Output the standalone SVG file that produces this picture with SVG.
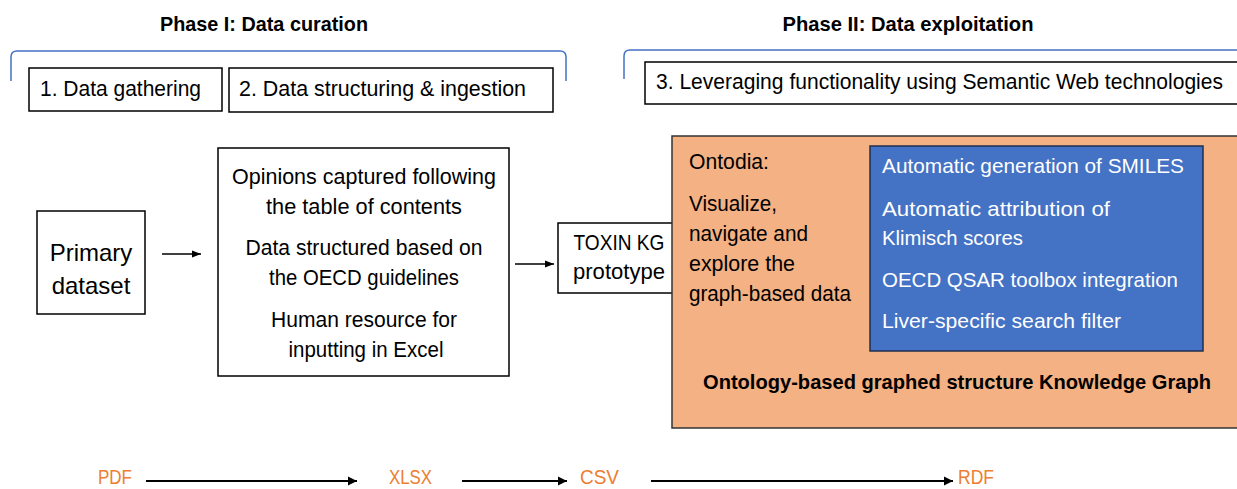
<svg xmlns="http://www.w3.org/2000/svg" width="1237" height="489" viewBox="0 0 1237 489">
<defs>
<marker id="ah" viewBox="0 0 10 10" refX="10" refY="5" markerWidth="9" markerHeight="9" orient="auto" markerUnits="userSpaceOnUse">
<path d="M0,1 L10,5 L0,9 Z" fill="#000"/>
</marker>
<marker id="ah2" viewBox="0 0 10 10" refX="10" refY="5" markerWidth="9" markerHeight="10" orient="auto" markerUnits="userSpaceOnUse">
<path d="M0,0 L10,5 L0,10 Z" fill="#000"/>
</marker>
</defs>
<style>
.t{font-family:"Liberation Sans",Arial,sans-serif;font-size:21.5px;fill:#000}
.c{text-anchor:middle}
.b{font-weight:bold;font-size:20.5px}
.w{fill:#fff;font-size:21px}
.o{fill:#ED7D31;font-size:21px}
.box{fill:#fff;stroke:#000;stroke-width:1.5}
.brk{fill:none;stroke:#4472C4;stroke-width:1.5}
.ar{fill:none;stroke:#000;stroke-width:1.5;marker-end:url(#ah)}
.ar2{fill:none;stroke:#000;stroke-width:2.2;marker-end:url(#ah2)}
</style>
<rect width="1237" height="489" fill="#fff"/>

<g id="phase1">
<text class="t b c" x="264" y="31" textLength="208" lengthAdjust="spacingAndGlyphs">Phase I: Data curation</text>
<path class="brk" d="M11,81 V57 Q11,51 17,51 H560 Q566,51 566,57 V81"/>
</g>
<g id="phase2">
<text class="t b c" x="908" y="31" textLength="251" lengthAdjust="spacingAndGlyphs">Phase II: Data exploitation</text>
<path class="brk" d="M624,79 V56 Q624,50 630,50 H1240"/>
</g>

<g id="step1">
<rect class="box" x="29" y="68" width="193" height="43"/>
<text class="t" x="40" y="96" textLength="161" lengthAdjust="spacingAndGlyphs">1. Data gathering</text>
</g>
<g id="step2">
<rect class="box" x="229" y="68" width="324" height="44"/>
<text class="t" x="239" y="96" textLength="287" lengthAdjust="spacingAndGlyphs">2. Data structuring &amp; ingestion</text>
</g>
<g id="step3">
<rect class="box" x="645" y="62" width="600" height="42"/>
<text class="t" x="656" y="89" textLength="567" lengthAdjust="spacingAndGlyphs">3. Leveraging functionality using Semantic Web technologies</text>
</g>

<g id="primary">
<rect class="box" x="37" y="211" width="108" height="103"/>
<text class="t c" x="91" y="261" style="font-size:24px">Primary</text>
<text class="t c" x="91" y="294" style="font-size:24px">dataset</text>
</g>

<g id="structuring">
<rect class="box" x="218" y="148" width="291" height="228"/>
<text class="t c" x="364" y="184" textLength="264" lengthAdjust="spacingAndGlyphs">Opinions captured following</text>
<text class="t c" x="364" y="214" textLength="196" lengthAdjust="spacingAndGlyphs">the table of contents</text>
<text class="t c" x="364" y="255" textLength="237" lengthAdjust="spacingAndGlyphs">Data structured based on</text>
<text class="t c" x="364" y="285" textLength="190" lengthAdjust="spacingAndGlyphs">the OECD guidelines</text>
<text class="t c" x="364" y="327" textLength="186" lengthAdjust="spacingAndGlyphs">Human resource for</text>
<text class="t c" x="366" y="357" textLength="155" lengthAdjust="spacingAndGlyphs">inputting in Excel</text>
</g>

<g id="toxin">
<rect class="box" x="558" y="223" width="120" height="70"/>
<text class="t c" x="619" y="250" textLength="91" lengthAdjust="spacingAndGlyphs">TOXIN KG</text>
<text class="t c" x="619" y="279" textLength="92" lengthAdjust="spacingAndGlyphs">prototype</text>
</g>

<g id="kg">
<rect x="672" y="136" width="580" height="292" fill="#F4B183" stroke="#333" stroke-width="1.5"/>
<text class="t" x="689" y="169" textLength="80" lengthAdjust="spacingAndGlyphs">Ontodia:</text>
<text class="t" x="689" y="211" textLength="88" lengthAdjust="spacingAndGlyphs">Visualize,</text>
<text class="t" x="689" y="241" textLength="119" lengthAdjust="spacingAndGlyphs">navigate and</text>
<text class="t" x="689" y="271" textLength="106" lengthAdjust="spacingAndGlyphs">explore the</text>
<text class="t" x="689" y="301" textLength="162" lengthAdjust="spacingAndGlyphs">graph-based data</text>
<text class="t b c" x="957" y="389" textLength="508" lengthAdjust="spacingAndGlyphs">Ontology-based graphed structure Knowledge Graph</text>
</g>

<g id="features">
<rect x="870" y="146" width="333" height="205" fill="#4472C4" stroke="#1F2F50" stroke-width="1.5"/>
<text class="t w" x="882" y="173" textLength="302" lengthAdjust="spacingAndGlyphs">Automatic generation of SMILES</text>
<text class="t w" x="882" y="216" textLength="228" lengthAdjust="spacingAndGlyphs">Automatic attribution of</text>
<text class="t w" x="882" y="245" textLength="141" lengthAdjust="spacingAndGlyphs">Klimisch scores</text>
<text class="t w" x="882" y="287" textLength="296" lengthAdjust="spacingAndGlyphs">OECD QSAR toolbox integration</text>
<text class="t w" x="882" y="328" textLength="239" lengthAdjust="spacingAndGlyphs">Liver-specific search filter</text>
</g>

<g id="formats">
<text class="t o" x="98" y="484" textLength="34" lengthAdjust="spacingAndGlyphs">PDF</text>
<text class="t o" x="389" y="484" textLength="43" lengthAdjust="spacingAndGlyphs">XLSX</text>
<text class="t o" x="580" y="484" textLength="39" lengthAdjust="spacingAndGlyphs">CSV</text>
<text class="t o" x="958" y="484" textLength="36" lengthAdjust="spacingAndGlyphs">RDF</text>
</g>

<g id="connectors">
<line class="ar" x1="162" y1="254" x2="201" y2="254"/>
<line class="ar" x1="515" y1="264" x2="554" y2="264"/>
<line class="ar2" x1="146" y1="481" x2="357" y2="481"/>
<line class="ar2" x1="462" y1="481" x2="567" y2="481"/>
<line class="ar2" x1="651" y1="481" x2="953" y2="481"/>
</g>
</svg>
